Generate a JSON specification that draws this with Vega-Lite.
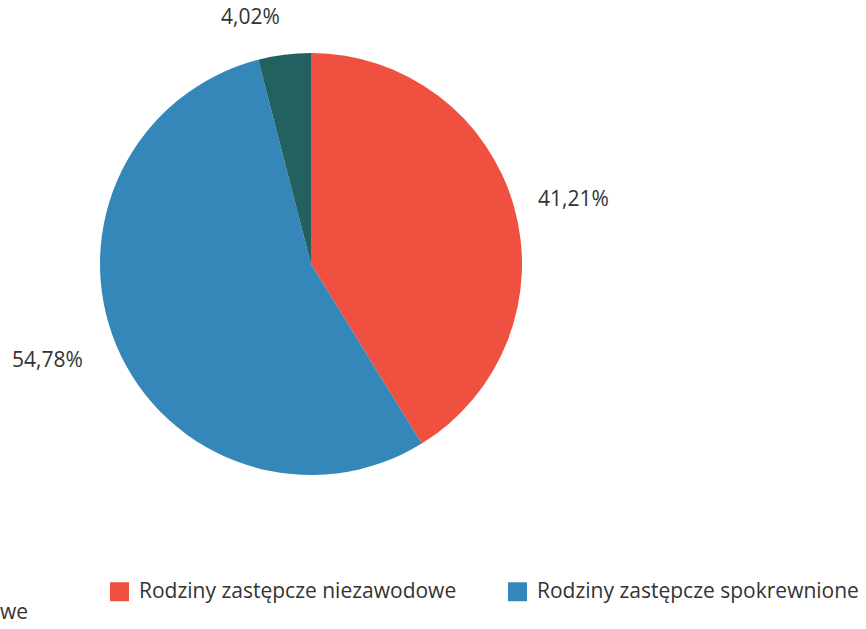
{
  "$schema": "https://vega.github.io/schema/vega-lite/v6.json",
  "width": 622,
  "height": 528,
  "autosize": "none",
  "padding": {"left": 0, "top": 0, "right": 244, "bottom": 101},
  "background": "white",
  "config": {"view": {"stroke": null}, "font": "Open Sans"},
  "title": {"text": "we", "orient": "bottom", "anchor": "start", "frame": "group", "offset": 0, "fontSize": 21, "fontWeight": "normal", "color": "#333333", "font": "Open Sans"},
  "data": {"values": [
    {"kategoria": "Rodziny zastępcze niezawodowe", "procent": 41.21, "etykieta": "41,21%", "kolejnosc": 1},
    {"kategoria": "Rodziny zastępcze spokrewnione", "procent": 54.78, "etykieta": "54,78%", "kolejnosc": 2},
    {"kategoria": "Rodziny zastępcze zawodowe", "procent": 4.02, "etykieta": "4,02%", "kolejnosc": 3}
  ]},
  "encoding": {
    "theta": {"field": "procent", "type": "quantitative", "stack": true},
    "order": {"field": "kolejnosc", "type": "quantitative"}
  },
  "layer": [
    {
      "mark": {"type": "arc", "outerRadius": 211, "strokeWidth": 0},
      "encoding": {
        "color": {
          "field": "kategoria", "type": "nominal",
          "scale": {"domain": ["Rodziny zastępcze niezawodowe", "Rodziny zastępcze spokrewnione", "Rodziny zastępcze zawodowe"], "range": ["#F0503F", "#3487B8", "#22615F"]},
          "legend": {
            "title": null, "orient": "none", "legendX": 109, "legendY": 581,
            "direction": "horizontal", "columns": 2, "columnPadding": 50,
            "values": ["Rodziny zastępcze niezawodowe", "Rodziny zastępcze spokrewnione"],
            "symbolType": "square", "symbolSize": 361, "symbolStrokeWidth": 0, "symbolOpacity": 1,
            "labelFontSize": 21, "labelColor": "#333333", "labelFont": "Open Sans", "labelLimit": 400, "labelOffset": 9
          }
        }
      }
    },
    {
      "mark": {"type": "text", "radius": 236, "align": "left", "baseline": "middle", "fontSize": 21, "color": "#333333", "font": "Open Sans"},
      "encoding": {"text": {"condition": {"test": "datum.kolejnosc == 1", "field": "etykieta"}, "value": ""}}
    },
    {
      "mark": {"type": "text", "radius": 248, "align": "right", "baseline": "middle", "fontSize": 21, "color": "#333333", "font": "Open Sans"},
      "encoding": {"text": {"condition": {"test": "datum.kolejnosc != 1", "field": "etykieta"}, "value": ""}}
    }
  ]
}
